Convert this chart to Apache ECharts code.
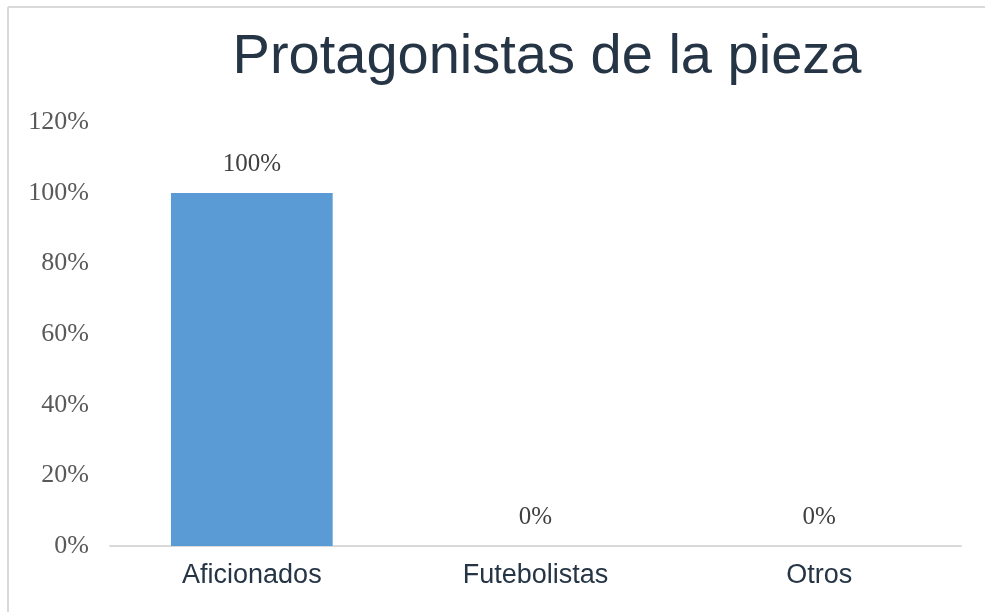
<!DOCTYPE html>
<html>
<head>
<meta charset="utf-8">
<script src="https://cdn.jsdelivr.net/npm/echarts@6/dist/echarts.min.js"></script>
<style>
html,body{margin:0;padding:0;background:#fff;}
#chart{width:985px;height:612px;}
</style>
</head>
<body>
<div id="chart"></div>
<script>
var titleText = 'Protagonistas de la pieza';
var categories = ['Aficionados', 'Futebolistas', 'Otros'];
var values = [100, 0, 0];
var yTicks = [0, 20, 40, 60, 80, 100, 120];

var chart = echarts.init(document.getElementById('chart'));
chart.setOption({
  backgroundColor: '#ffffff',
  animation: false,
  title: {
    text: titleText,
    left: 542,
    top: 25,
    textAlign: 'center',
    textStyle: {
      fontFamily: 'Liberation Sans, Arial, sans-serif',
      fontSize: 56,
      fontWeight: 'normal',
      color: '#263545'
    }
  },
  graphic: [
    {type: 'line', shape: {x1: 8, y1: 7, x2: 990, y2: 7}, style: {stroke: '#d9d9d9', lineWidth: 2}},
    {type: 'line', shape: {x1: 8, y1: 7, x2: 8, y2: 620}, style: {stroke: '#d9d9d9', lineWidth: 2}}
  ],
  grid: {left: 110, right: 24, top: 122.4, bottom: 66, containLabel: false},
  xAxis: {
    type: 'category',
    data: categories,
    axisLine: {lineStyle: {color: '#d9d9d9', width: 2}},
    axisTick: {show: false},
    axisLabel: {
      margin: 16,
      fontFamily: 'Liberation Sans, Arial, sans-serif',
      fontSize: 27,
      color: '#263545'
    }
  },
  yAxis: {
    type: 'value',
    min: yTicks[0],
    max: yTicks[yTicks.length - 1],
    interval: 20,
    splitLine: {show: false},
    axisLine: {show: false},
    axisTick: {show: false},
    axisLabel: {
      margin: 21,
      padding: [4, 0, 0, 0],
      formatter: '{value}%',
      fontFamily: 'Liberation Serif, Times New Roman, serif',
      fontSize: 26,
      color: '#595959'
    }
  },
  series: [{
    type: 'bar',
    data: values,
    barWidth: '57%',
    itemStyle: {color: '#5b9bd5'},
    label: {
      show: true,
      position: 'top',
      distance: 16,
      formatter: '{c}%',
      fontFamily: 'Liberation Serif, Times New Roman, serif',
      fontSize: 25,
      color: '#404040'
    }
  }]
});
</script>
</body>
</html>
